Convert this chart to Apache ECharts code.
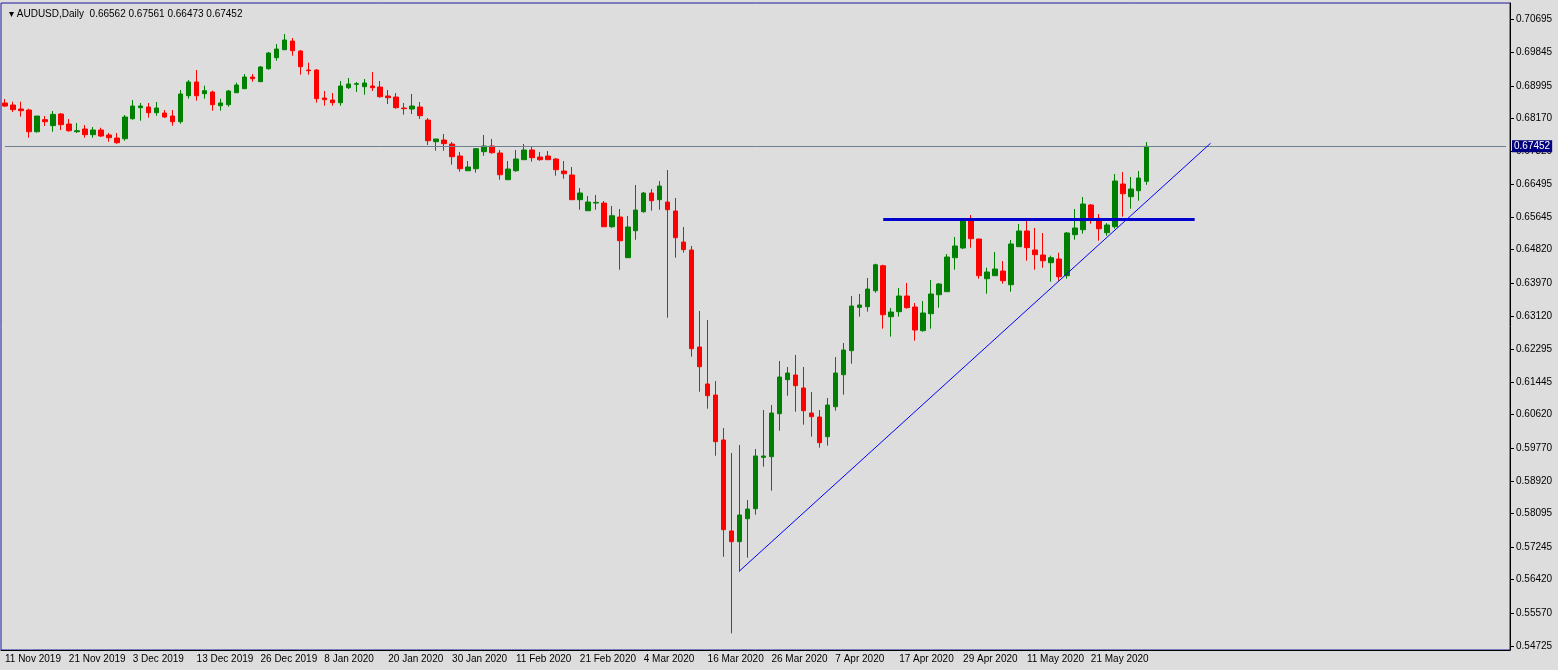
<!DOCTYPE html>
<html><head><meta charset="utf-8">
<script src="https://cdn.jsdelivr.net/npm/echarts@6/dist/echarts.min.js"></script>
<style>html,body{margin:0;padding:0;background:#dddddd}#c{width:1558px;height:670px}</style>
</head><body><div id="c"></div>
<script>
const opens=[0.68556,0.68505,0.68403,0.68377,0.67825,0.68131,0.67979,0.68275,0.68020,0.67825,0.67894,0.67749,0.67868,0.67741,0.67664,0.67647,0.68156,0.68437,0.68454,0.68310,0.68301,0.68224,0.68080,0.68742,0.69091,0.68793,0.68836,0.68487,0.68513,0.68818,0.68920,0.69218,0.69099,0.69429,0.69710,0.69913,0.70135,0.69880,0.69396,0.69396,
0.68683,0.68632,0.68564,0.68946,0.69032,0.68972,0.68989,0.68963,0.68734,0.68708,0.68428,0.68403,0.68454,0.68122,0.67570,0.67613,0.67511,0.67206,0.66831,0.66882,0.67316,0.67460,0.67282,0.66602,0.66831,0.67112,0.67359,0.67180,0.67206,0.67129,0.66823,0.66722,0.66093,0.65812,0.66008,0.66008,0.65404,0.65652,0.64616,
0.65303,0.65787,0.66263,0.66093,0.66034,0.65805,0.65015,0.64812,0.62341,0.61399,0.61118,0.59973,0.57655,0.57383,0.57968,0.58223,0.59531,0.59548,0.60643,0.61509,0.61628,0.61297,0.60660,0.60558,0.60057,0.60821,0.61636,0.62248,
0.63351,0.63368,0.63774,0.64411,0.63113,0.63241,0.63640,0.63360,0.62757,0.63190,0.63673,0.63750,0.64616,0.64863,0.65576,0.65092,0.64081,0.64157,0.64276,0.63928,0.64896,0.65296,0.64812,0.64684,0.64488,0.64582,0.64157,0.65202,0.65329,0.65958,0.65617,0.65252,0.65405,0.66492,0.66170,0.66322,0.66562];
const highs=[0.68657,0.68589,0.68589,0.68411,0.68224,0.68224,0.68352,0.68301,0.68148,0.68046,0.67995,0.67944,0.67927,0.67792,0.67792,0.68250,0.68632,0.68556,0.68556,0.68581,0.68377,0.68377,0.68887,0.69141,0.69396,0.68997,0.68870,0.68666,0.68887,0.69073,0.69294,0.69294,0.69498,0.69855,0.70058,0.70313,0.70211,0.69905,0.69582,0.69421,
0.68861,0.68810,0.69116,0.69192,0.69091,0.69167,0.69345,0.69116,0.68887,0.68810,0.68556,0.68785,0.68581,0.68173,0.67639,0.67766,0.67562,0.67308,0.67078,0.67409,0.67741,0.67639,0.67359,0.67078,0.67359,0.67511,0.67460,0.67308,0.67333,0.67155,0.67078,0.66926,0.66391,0.66187,0.66212,0.66059,0.65932,0.65856,0.65677,
0.66467,0.66289,0.66365,0.66569,0.66849,0.66136,0.65397,0.64914,0.63258,0.63029,0.61475,0.60278,0.59642,0.59845,0.58444,0.59743,0.60736,0.60864,0.61985,0.61832,0.62138,0.61832,0.61195,0.60736,0.61042,0.62086,0.62443,0.63640,
0.63691,0.64098,0.64463,0.64436,0.63334,0.63844,0.63971,0.63462,0.63513,0.64047,0.63971,0.64710,0.65143,0.65601,0.65703,0.65092,0.64361,0.64760,0.64531,0.65066,0.65474,0.65576,0.65372,0.65245,0.64667,0.64743,0.65270,0.65856,0.66161,0.65983,0.65729,0.65499,0.66747,0.66798,0.66671,0.66823,0.67561];
const lows=[0.68454,0.68325,0.68208,0.67672,0.67800,0.67970,0.67825,0.67868,0.67825,0.67792,0.67672,0.67672,0.67690,0.67570,0.67519,0.67596,0.68131,0.68105,0.68182,0.68233,0.68182,0.67978,0.68029,0.68666,0.68615,0.68666,0.68360,0.68360,0.68462,0.68818,0.68920,0.69099,0.69099,0.69404,0.69633,0.69913,0.69761,0.69277,0.69277,0.68564,
0.68487,0.68487,0.68487,0.68912,0.68836,0.68767,0.68861,0.68691,0.68530,0.68411,0.68258,0.68275,0.68148,0.67486,0.67341,0.67341,0.66984,0.66806,0.66831,0.66781,0.67214,0.67265,0.66602,0.66602,0.66806,0.67112,0.67061,0.67087,0.67112,0.66704,0.66627,0.66093,0.65838,0.65812,0.65838,0.65404,0.65379,0.64310,0.64616,
0.65074,0.65761,0.65812,0.65838,0.63087,0.64616,0.64744,0.62095,0.61203,0.60770,0.59573,0.56999,0.55048,0.56618,0.56974,0.58071,0.59293,0.58681,0.60210,0.61101,0.60694,0.60363,0.60057,0.59777,0.59828,0.60719,0.61127,0.61917,
0.63113,0.63241,0.63725,0.62808,0.62605,0.63113,0.63317,0.62503,0.62731,0.62808,0.63343,0.63750,0.64310,0.64837,0.64871,0.64081,0.63698,0.64157,0.63954,0.63750,0.64896,0.64539,0.64310,0.64361,0.64004,0.64030,0.64081,0.65074,0.65227,0.65481,0.65049,0.65176,0.65354,0.65660,0.65863,0.66067,0.66473];
const closes=[0.68479,0.68386,0.68361,0.67825,0.68224,0.68080,0.68266,0.68004,0.67850,0.67850,0.67749,0.67868,0.67715,0.67672,0.67545,0.68199,0.68479,0.68479,0.68310,0.68428,0.68199,0.68080,0.68785,0.69091,0.68742,0.68870,0.68513,0.68556,0.68861,0.69014,0.69218,0.69175,0.69473,0.69829,0.69931,0.70160,0.69888,0.69480,0.69379,0.68666,
0.68640,0.68564,0.68989,0.69040,0.69048,0.69065,0.68946,0.68716,0.68691,0.68437,0.68411,0.68479,0.68233,0.67596,0.67639,0.67520,0.67188,0.66882,0.66926,0.67392,0.67460,0.67290,0.66729,0.66874,0.67129,0.67359,0.67163,0.67112,0.67112,0.66857,0.66755,0.66093,0.66263,0.66034,0.66025,0.65404,0.65685,0.65048,0.65397,
0.65830,0.66263,0.66067,0.66442,0.65838,0.65125,0.64820,0.62298,0.61839,0.61101,0.59930,0.57688,0.57383,0.58062,0.58215,0.59565,0.59565,0.60660,0.61577,0.61679,0.61356,0.60719,0.60566,0.59905,0.60864,0.61679,0.62265,0.63385,
0.63411,0.63818,0.64436,0.63164,0.63232,0.63640,0.63343,0.62774,0.63207,0.63691,0.63946,0.64633,0.64914,0.65576,0.65100,0.64157,0.64251,0.64327,0.64030,0.64965,0.65296,0.64871,0.64693,0.64539,0.64616,0.64131,0.65245,0.65372,0.65983,0.65634,0.65354,0.65448,0.66569,0.66246,0.66365,0.66645,0.67452];
const yTicks=[0.70695,0.69845,0.68995,0.68170,0.67320,0.66495,0.65645,0.64820,0.63970,0.63120,0.62295,0.61445,0.60620,0.59770,0.58920,0.58095,0.57245,0.56420,0.55570,0.54725];
const resistance=0.65601, resStart=110, resEnd=149;
const trendStart=[92,0.56638], trendEnd=[151,0.67532];
const lastPrice=0.67452;

const MON=['Jan','Feb','Mar','Apr','May','Jun','Jul','Aug','Sep','Oct','Nov','Dec'];
const holidays=['2019-12-25','2020-01-01'];
const cats=[];
let d=new Date(Date.UTC(2019,10,11));
while(cats.length<opens.length){
  const wd=d.getUTCDay(), iso=d.toISOString().slice(0,10);
  if(wd!==0&&wd!==6&&!holidays.includes(iso)) cats.push(d.getUTCDate()+' '+MON[d.getUTCMonth()]+' '+d.getUTCFullYear());
  d=new Date(d.getTime()+86400000);
}
const NCAT=189;
while(cats.length<NCAT) cats.push(' '.repeat(cats.length-opens.length+1));
const data=opens.map((o,i)=>[o,closes[i],lows[i],highs[i]]);
const chart=echarts.init(document.getElementById('c'));
const F='Liberation Sans, Arial, sans-serif';
chart.setOption({
  backgroundColor:'#dddddd',animation:false,
  grid:{left:1,right:48,top:3,bottom:20,show:true,borderColor:'#1a1aa0',borderWidth:1,backgroundColor:'#dddddd'},
  title:{text:'▾ AUDUSD,Daily  0.66562 0.67561 0.66473 0.67452',left:4,top:4,textStyle:{fontSize:10,fontWeight:'normal',color:'#000',fontFamily:F}},
  xAxis:{type:'category',data:cats,boundaryGap:true,
    axisLine:{lineStyle:{color:'#000'}},
    axisTick:{interval:(i)=>i%8===0&&i<opens.length,length:4,lineStyle:{color:'#000'}},
    axisLabel:{interval:(i)=>i%8===0&&i<opens.length,color:'#000',fontSize:10,fontFamily:F,margin:4,align:'left'},
    splitLine:{show:false}},
  yAxis:{type:'value',position:'right',min:0.54624,max:0.71103,
    axisLine:{show:true,lineStyle:{color:'#000'}},
    axisTick:{show:true,customValues:yTicks,length:4,lineStyle:{color:'#000'}},
    axisLabel:{customValues:yTicks,color:'#000',fontSize:10,fontFamily:F,margin:6,formatter:v=>v.toFixed(5)},
    splitLine:{show:false}},
  series:[{type:'candlestick',data:data,barWidth:5,
    itemStyle:{color:'#008000',color0:'#ff0000',borderColor:'#008000',borderColor0:'#ff0000',borderWidth:1},
    markLine:{silent:true,symbol:'none',animation:false,label:{show:false},
      data:[
        [{coord:[0,lastPrice],lineStyle:{color:'#6e7f90',width:1,type:'solid'},
          label:{show:true,position:'end',distance:6,formatter:lastPrice.toFixed(5),backgroundColor:'#000080',color:'#fff',fontSize:10,fontFamily:F,padding:[1,2]}},
         {coord:[NCAT-1,lastPrice]}],
        [{coord:[resStart,resistance],lineStyle:{color:'#0000cc',width:3,type:'solid'}},{coord:[resEnd,resistance]}],
        [{coord:trendStart,lineStyle:{color:'#0000ff',width:1,type:'solid'}},{coord:trendEnd}]
      ]}
  }]
});
</script></body></html>
